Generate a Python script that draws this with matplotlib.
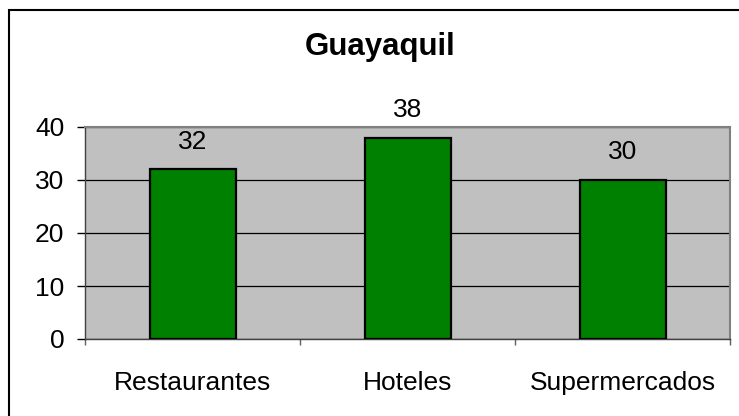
import matplotlib
matplotlib.use("Agg")
import matplotlib.pyplot as plt
from matplotlib.patches import Rectangle

categories = ["Restaurantes", "Hoteles", "Supermercados"]
values = [32, 38, 30]
yticks = [0, 10, 20, 30, 40]
title = "Guayaquil"

plt.rcParams['font.family'] = ['Liberation Sans', 'DejaVu Sans']

W, H = 739, 416
fig = plt.figure(figsize=(W / 100, H / 100), dpi=100)
ax = fig.add_axes([85 / W, 1 - 339 / H, (730 - 85) / W, (339 - 127) / H])
ax.set_facecolor("#C0C0C0")

x = list(range(len(categories)))
bars = ax.bar(x, values, width=0.4, color="#008000", edgecolor="black", linewidth=1.6, zorder=3)
for xi, v in zip(x, values):
    ax.annotate(str(v), (xi, v), xytext=(0, 20), textcoords="offset points",
                ha="center", va="center", fontsize=19)

ax.set_xlim(-0.5, len(categories) - 0.5)
ax.set_ylim(0, 40)
ax.set_yticks(yticks)
ax.set_yticklabels([str(t) for t in yticks], fontsize=19)
ax.yaxis.grid(True, color="black", linewidth=0.9, zorder=1)
ax.set_axisbelow(True)

ax.set_xticks(x)
ax.set_xticklabels(categories, fontsize=19)
ax.tick_params(axis="x", which="major", length=0, pad=23)
ax.set_xticks([i - 0.5 for i in range(len(categories) + 1)], minor=True)
ax.tick_params(axis="x", which="minor", length=4, width=1, color="#606060", direction="out")
ax.tick_params(axis="y", length=6, width=1, direction="out", pad=9)

for s in ["left", "bottom"]:
    ax.spines[s].set_color("#404040")
    ax.spines[s].set_linewidth(1)
for s in ["top", "right"]:
    ax.spines[s].set_color("#808080")
    ax.spines[s].set_linewidth(1.5)

fig.text(380 / W, 1 - 47 / H, title, ha="center", va="center", fontsize=22.5, fontweight="bold")

# outer chart border (only top and left visible)
fig.patches.append(Rectangle((9 / W, -0.1), 1.2, 1 - 10 / H + 0.1, transform=fig.transFigure,
                             fill=False, edgecolor="black", linewidth=1.5))

fig.savefig("out.png", dpi=100)
